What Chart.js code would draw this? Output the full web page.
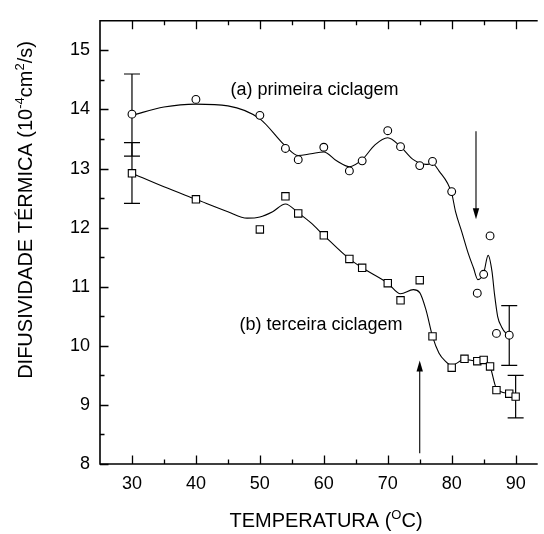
<!DOCTYPE html>
<html>
<head>
<meta charset="utf-8">
<script src="https://cdn.jsdelivr.net/npm/chart.js@4.4.0/dist/chart.umd.min.js"></script>
<style>
  html, body { margin: 0; padding: 0; background: #fff; }
  canvas { display: block; }
</style>
</head>
<body>
<canvas id="chart" width="544" height="534"></canvas>
<script>
// (a) primeira ciclagem - measured points (circles)
const tempA = [30, 40, 50, 54, 56, 60, 64, 66, 70, 72, 75, 77, 80, 84, 85, 86, 87, 89];
const difA = [13.92, 14.17, 13.90, 13.34, 13.15, 13.36, 12.96, 13.13, 13.64, 13.37, 13.05, 13.12, 12.61, 10.89, 11.21, 11.86, 10.21, 10.18];

// (b) terceira ciclagem - measured points (squares)
const tempB = [30, 40, 50, 54, 56, 60, 64, 66, 70, 72, 75, 77, 80, 82, 84, 85, 86, 87, 89, 90];
const difB = [12.92, 12.48, 11.97, 12.53, 12.24, 11.87, 11.47, 11.32, 11.06, 10.77, 11.11, 10.16, 9.63, 9.78, 9.74, 9.76, 9.65, 9.25, 9.19, 9.14];

// smooth guide curves, knots
const curveAx = [30, 35, 40, 45, 50, 54, 56, 58, 60, 62, 64, 66, 68, 70, 72, 74, 76, 77, 78, 80, 80.6, 81.6, 82.6, 83.4, 84.1, 85, 85.7, 86.3, 86.7, 87.2, 87.8, 88.5, 89.1];
const curveAy = [13.90, 14.04, 14.09, 14.06, 13.84, 13.38, 13.22, 13.25, 13.28, 13.13, 13.03, 13.15, 13.40, 13.52, 13.37, 13.15, 13.07, 13.08, 12.96, 12.58, 12.27, 11.92, 11.56, 11.32, 11.12, 11.23, 11.53, 11.26, 10.87, 10.49, 10.32, 10.21, 10.18];
const curveBx = [30, 35, 40, 45, 48, 50, 52, 54, 56, 58, 60, 64, 66, 70, 72, 74, 75, 76, 77, 78, 79, 80, 82, 84, 85, 86, 87, 89, 90];
const curveBy = [12.92, 12.69, 12.48, 12.27, 12.16, 12.18, 12.27, 12.40, 12.25, 12.08, 11.87, 11.47, 11.32, 11.06, 10.88, 10.95, 10.90, 10.60, 10.16, 9.88, 9.74, 9.67, 9.77, 9.74, 9.76, 9.65, 9.28, 9.19, 9.14];

// error bars
const errX = [30, 30, 89, 90];
const errLo = [13.21, 12.41, 9.67, 8.78];
const errHi = [14.60, 13.44, 10.68, 9.50];

// arrows (x, from y, to y)
const arrowX = [83.8, 75];
const arrowFrom = [13.63, 8.18];
const arrowTo = [12.14, 9.75];

// axis ticks
const xTicks = [30, 40, 50, 60, 70, 80, 90];
const xMinor = [35, 45, 55, 65, 75, 85];
const yTicks = [8, 9, 10, 11, 12, 13, 14, 15];
const yMinor = [8.5, 9.5, 10.5, 11.5, 12.5, 13.5, 14.5];

const labelText = ['(a) primeira ciclagem', '(b) terceira ciclagem'];
const labelX = [45.4, 46.8];
const labelY = [14.25, 10.27];

const FONT = "'Liberation Sans', Arial, sans-serif";

function toPts(xs, ys) {
    return xs.map((x, i) => ({ x: x, y: ys[i] }));
}

// draw text with superscript parts
function richWidth(ctx, parts, size) {
    let w = 0;
    parts.forEach(p => {
        ctx.font = (p.sup ? size * 0.65 : size) + 'px ' + FONT;
        w += ctx.measureText(p.t).width;
    });
    return w;
}
function drawRich(ctx, parts, x, y, size) {
    let cx = x;
    parts.forEach(p => {
        ctx.font = (p.sup ? size * 0.65 : size) + 'px ' + FONT;
        ctx.fillText(p.t, cx, p.sup ? y - size * 0.42 : y);
        cx += ctx.measureText(p.t).width;
    });
}

const errorBars = {
    id: 'errorBars',
    beforeDatasetsDraw(chart) {
        const ctx = chart.ctx;
        const xs = chart.scales.x, ys = chart.scales.y;
        ctx.save();
        ctx.strokeStyle = '#000';
        ctx.lineWidth = 1.2;
        errX.forEach((x, i) => {
            const px = xs.getPixelForValue(x);
            const top = ys.getPixelForValue(errHi[i]);
            const bot = ys.getPixelForValue(errLo[i]);
            ctx.beginPath();
            ctx.moveTo(px, top); ctx.lineTo(px, bot);
            ctx.moveTo(px - 8, top); ctx.lineTo(px + 8, top);
            ctx.moveTo(px - 8, bot); ctx.lineTo(px + 8, bot);
            ctx.stroke();
        });
        ctx.restore();
    }
};

const frame = {
    id: 'frame',
    afterDraw(chart) {
        const ctx = chart.ctx;
        const a = chart.chartArea;
        const xs = chart.scales.x, ys = chart.scales.y;
        ctx.save();
        ctx.strokeStyle = '#000';
        ctx.fillStyle = '#000';

        // axis lines
        ctx.lineWidth = 1.6;
        ctx.beginPath();
        ctx.moveTo(a.right, a.top); ctx.lineTo(a.left, a.top);
        ctx.lineTo(a.left, a.bottom); ctx.lineTo(a.right, a.bottom);
        ctx.stroke();

        // inward ticks
        ctx.lineWidth = 1.3;
        ctx.beginPath();
        const xt = (v, len) => {
            const px = Math.round(xs.getPixelForValue(v)) + 0.5;
            ctx.moveTo(px, a.bottom); ctx.lineTo(px, a.bottom - len);
            ctx.moveTo(px, a.top); ctx.lineTo(px, a.top + len);
        };
        const yt = (v, len) => {
            const py = Math.round(ys.getPixelForValue(v)) + 0.5;
            ctx.moveTo(a.left, py); ctx.lineTo(a.left + len, py);
        };
        xTicks.forEach(v => xt(v, 8.5));
        xMinor.forEach(v => xt(v, 4.5));
        yTicks.forEach(v => yt(v, 8.5));
        yMinor.forEach(v => yt(v, 4.5));
        ctx.stroke();

        // arrows
        ctx.lineWidth = 1.1;
        arrowX.forEach((x, i) => {
            const px = xs.getPixelForValue(x);
            const p0 = ys.getPixelForValue(arrowFrom[i]);
            const p1 = ys.getPixelForValue(arrowTo[i]);
            const dir = p1 > p0 ? 1 : -1;
            ctx.beginPath();
            ctx.moveTo(px, p0); ctx.lineTo(px, p1 - dir * 8);
            ctx.stroke();
            ctx.beginPath();
            ctx.moveTo(px, p1);
            ctx.lineTo(px - 3.2, p1 - dir * 11);
            ctx.lineTo(px + 3.2, p1 - dir * 11);
            ctx.closePath();
            ctx.fill();
        });

        // curve labels
        ctx.font = '18px ' + FONT;
        ctx.textAlign = 'left';
        ctx.textBaseline = 'alphabetic';
        labelText.forEach((t, i) => {
            ctx.fillText(t, xs.getPixelForValue(labelX[i]), ys.getPixelForValue(labelY[i]));
        });

        // axis titles
        const xTitle = [{ t: 'TEMPERATURA (' }, { t: 'O', sup: true }, { t: 'C)' }];
        const w1 = richWidth(ctx, xTitle, 20);
        drawRich(ctx, xTitle, 326 - w1 / 2, 527, 20);

        const yTitle = [{ t: 'DIFUSIVIDADE TÉRMICA (10' }, { t: '-4', sup: true }, { t: 'cm' }, { t: '2', sup: true }, { t: '/s)' }];
        const w2 = richWidth(ctx, yTitle, 20);
        ctx.translate(32, 210);
        ctx.rotate(-Math.PI / 2);
        drawRich(ctx, yTitle, -w2 / 2, 0, 20);
        ctx.restore();
    }
};

new Chart(document.getElementById('chart'), {
    type: 'line',
    data: {
        datasets: [
            {
                data: toPts(tempA, difA),
                showLine: false,
                pointStyle: 'circle',
                pointRadius: 3.9,
                pointBorderWidth: 1.1,
                pointBorderColor: '#000',
                pointBackgroundColor: '#fff',
                order: 0
            },
            {
                data: toPts(tempB, difB),
                showLine: false,
                pointStyle: 'rect',
                pointRadius: 5.2,
                pointBorderWidth: 1.1,
                pointBorderColor: '#000',
                pointBackgroundColor: '#fff',
                order: 1
            },
            {
                data: toPts(curveAx, curveAy),
                borderColor: '#000',
                borderWidth: 1.1,
                pointRadius: 0,
                cubicInterpolationMode: 'monotone',
                fill: false,
                order: 2
            },
            {
                data: toPts(curveBx, curveBy),
                borderColor: '#000',
                borderWidth: 1.1,
                pointRadius: 0,
                cubicInterpolationMode: 'monotone',
                fill: false,
                order: 3
            }
        ]
    },
    options: {
        responsive: false,
        animation: false,
        devicePixelRatio: 1,
        layout: { padding: { top: 11, right: 0, left: 0, bottom: 0 } },
        plugins: { legend: { display: false }, tooltip: { enabled: false } },
        scales: {
            x: {
                type: 'linear',
                min: 25,
                max: 93.45,
                afterBuildTicks: s => { s.ticks = xTicks.map(v => ({ value: v })); },
                afterFit: s => { s.height = 70; },
                grid: { display: false, drawTicks: false },
                border: { display: false },
                ticks: { color: '#000', font: { family: FONT, size: 18 }, padding: 9, maxRotation: 0 }
            },
            y: {
                type: 'linear',
                min: 8,
                max: 15.5,
                afterBuildTicks: s => { s.ticks = yTicks.map(v => ({ value: v })); },
                afterFit: s => { s.width = 100; },
                grid: { display: false, drawTicks: false },
                border: { display: false },
                ticks: { color: '#000', font: { family: FONT, size: 18 }, padding: 10 }
            }
        }
    },
    plugins: [errorBars, frame]
});
</script>
</body>
</html>
